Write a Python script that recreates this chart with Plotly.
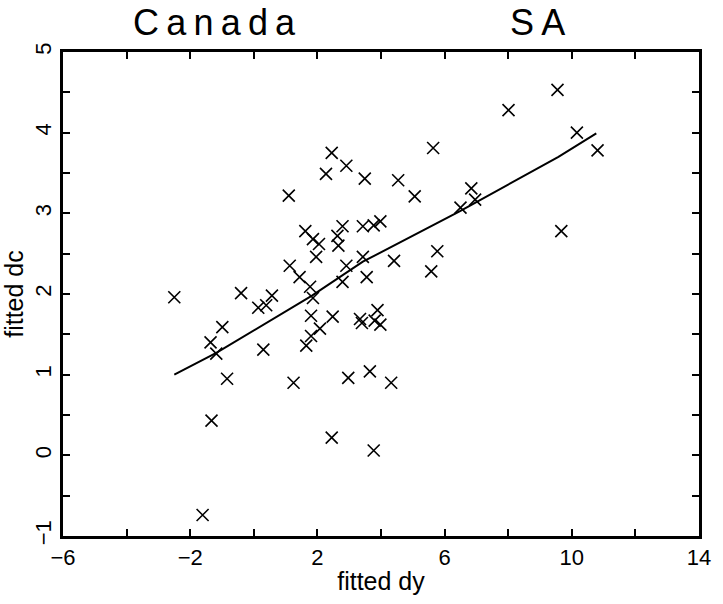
import plotly.graph_objects as go

# Fitted consumption growth (dc) against fitted income growth (dy)
fitted_dy = [2.45, 2.91, 2.27, 5.64, 3.49, 4.54, 5.06, 1.10, 6.84, 6.50,
             1.62, 1.86, 2.05, 2.79, 2.63, 2.66, 3.43, 3.77, 3.98, 1.96,
             3.43, 2.91, 4.41, 5.77, 5.58, 1.13, 1.44, 3.55, 2.79, 1.77,
             1.86, -0.40, 0.57, 0.39, 0.14, -0.99, -1.36, -1.18, 0.30, -0.84,
             1.25, 1.80, 2.48, 2.08, 1.80, 1.65, 3.34, 3.40, 3.89, 3.80,
             3.98, 2.97, 3.65, 4.32, 9.55, 8.01, 10.16, 10.81, 6.96, 9.67,
             -1.33, -1.61, 2.45, 3.77, -2.50]
fitted_dc = [3.75, 3.59, 3.49, 3.81, 3.43, 3.41, 3.21, 3.22, 3.31, 3.07,
             2.78, 2.68, 2.62, 2.84, 2.72, 2.60, 2.84, 2.85, 2.90, 2.46,
             2.46, 2.35, 2.41, 2.53, 2.28, 2.35, 2.21, 2.21, 2.15, 2.09,
             1.95, 2.01, 1.98, 1.86, 1.83, 1.59, 1.40, 1.26, 1.31, 0.95,
             0.90, 1.73, 1.72, 1.57, 1.48, 1.36, 1.69, 1.64, 1.80, 1.67,
             1.62, 0.96, 1.04, 0.90, 4.53, 4.28, 4.00, 3.78, 3.17, 2.78,
             0.43, -0.74, 0.22, 0.06, 1.96]

# Smoothed fit through the scatter
fit_dy = [-2.50, -1.18, 1.83, 3.43, 6.50, 9.58, 10.77]
fit_dc = [1.00, 1.27, 1.98, 2.40, 3.03, 3.70, 3.99]

x_ticks = [-6, -2, 2, 6, 10, 14]
x_minor = [-4, 0, 4, 8, 12]
y_ticks = [-1, 0, 1, 2, 3, 4, 5]
y_minor = [-0.5, 0.5, 1.5, 2.5, 3.5, 4.5]

FONT = "Liberation Sans"
THIN = "\u2009"

fig = go.Figure()
fig.add_trace(go.Scatter(
    x=fitted_dy, y=fitted_dc, mode="markers",
    marker=dict(symbol="x-thin", size=12, line=dict(color="black", width=1.6)),
    showlegend=False, hoverinfo="skip",
))
fig.add_trace(go.Scatter(
    x=fit_dy, y=fit_dc, mode="lines",
    line=dict(color="black", width=2),
    showlegend=False, hoverinfo="skip",
))

axis_common = dict(
    showgrid=False, zeroline=False, showline=True, linecolor="black",
    linewidth=2.5, mirror="allticks", ticks="inside", ticklen=7,
    tickwidth=1.5, tickcolor="black",
    tickfont=dict(family=FONT, size=22, color="black"),
)

fig.update_xaxes(
    range=[-6, 14], tickvals=x_ticks, ticktext=[str(v).replace("-", "\u2212") for v in x_ticks],
    minor=dict(tickvals=x_minor, ticks="inside", ticklen=7, tickwidth=1.5, tickcolor="black"),
    title=dict(text="fitted dy", font=dict(family=FONT, size=25, color="black"), standoff=4),
    **axis_common,
)
fig.update_yaxes(
    range=[-1, 5], tickvals=y_ticks, ticktext=[str(v).replace("-", "\u2212") for v in y_ticks],
    tickangle=-90,
    minor=dict(tickvals=y_minor, ticks="inside", ticklen=7, tickwidth=1.5, tickcolor="black"),
    title=dict(text="fitted dc", font=dict(family=FONT, size=25, color="black"), standoff=2),
    **axis_common,
)

W, H = 723, 604
ML, MR, MT, MB = 60, 12, 52, 66
pw, ph = W - ML - MR, H - MT - MB

# headline labels, positioned by page pixel then converted to paper units
for label, px, py in [("Canada", 215, 22), ("SA", 546, 22)]:
    fig.add_annotation(
        text=THIN.join(label), x=(px - ML) / pw, y=(H - MB - py) / ph,
        xref="paper", yref="paper", xanchor="center", yanchor="middle",
        showarrow=False, font=dict(family=FONT, size=36, color="black"),
    )

fig.update_layout(
    width=W, height=H,
    margin=dict(l=ML, r=MR, t=MT, b=MB),
    plot_bgcolor="white", paper_bgcolor="white",
    font=dict(family=FONT, color="black"),
)

fig.write_html("out.html")
